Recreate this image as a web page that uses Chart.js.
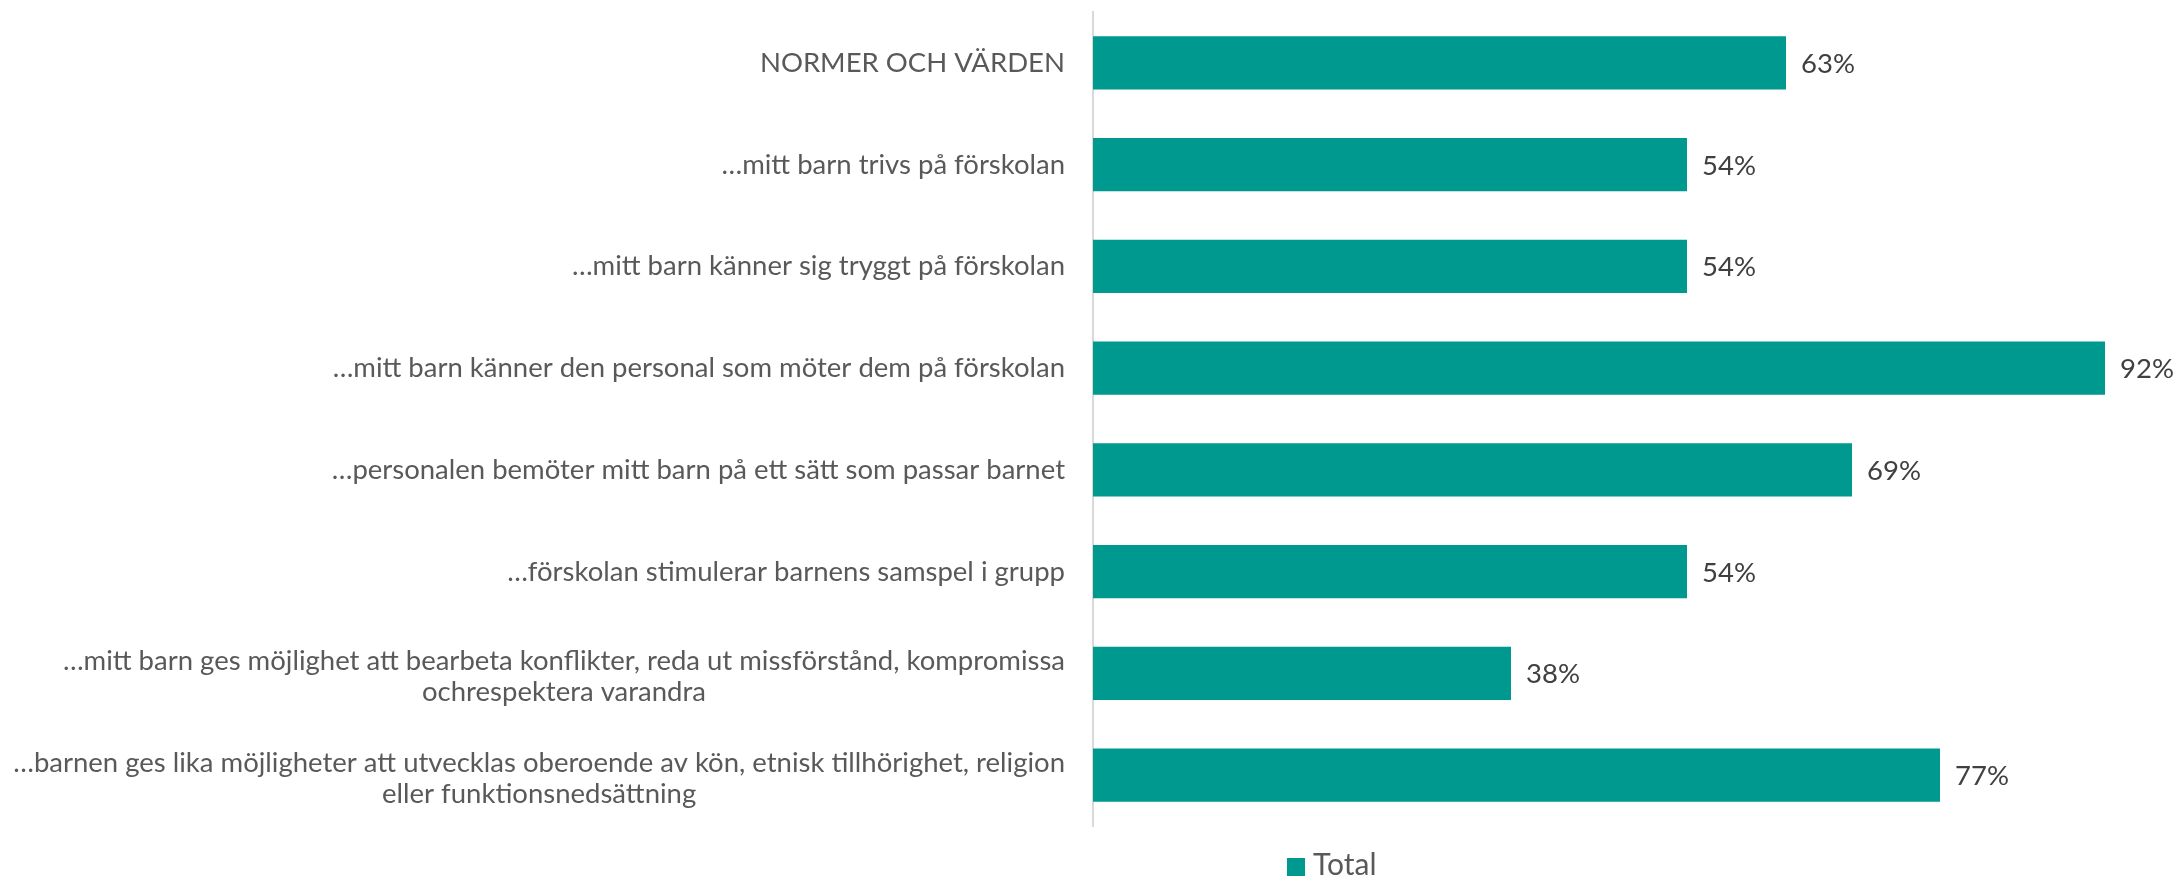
<!DOCTYPE html>
<html lang="sv">
<head>
    <meta charset="UTF-8">
    <title>Normer och värden</title>
    <style>
        body {
            margin: 0;
            background: #fff;
        }

        .chart-container {
            width: 2180px;
            height: 877px;
            position: relative;
        }
    </style>
</head>
<body>

<div class="chart-container">
    <canvas id="myChart"></canvas>
</div>

<script src="https://cdn.jsdelivr.net/npm/chart.js"></script>
<script>
    const categories = [
        ['NORMER OCH VÄRDEN'],
        ['…mitt barn trivs på förskolan'],
        ['…mitt barn känner sig tryggt på förskolan'],
        ['…mitt barn känner den personal som möter dem på förskolan'],
        ['…personalen bemöter mitt barn på ett sätt som passar barnet'],
        ['…förskolan stimulerar barnens samspel i grupp'],
        ['…mitt barn ges möjlighet att bearbeta konflikter, reda ut missförstånd, kompromissa', 'ochrespektera varandra'],
        ['…barnen ges lika möjligheter att utvecklas oberoende av kön, etnisk tillhörighet, religion', 'eller funktionsnedsättning']
    ];
    const totalValues = [0.63, 0.54, 0.54, 0.92, 0.69, 0.54, 0.38, 0.77];
    const seriesName = 'Total';

    const barColor = '#009990';
    const labelFont = '27.5px Lato';

    // kategoritexter, värdeetiketter och förklaring ritas här
    const textPlugin = {
        id: 'textPlugin',
        afterDraw(chart) {
            const ctx = chart.ctx;
            const yScale = chart.scales.y;
            const meta = chart.getDatasetMeta(0);
            ctx.save();

            // kategorier till vänster
            ctx.font = labelFont;
            ctx.fillStyle = '#595959';
            ctx.textBaseline = 'middle';
            ctx.textAlign = 'center';
            const rightEdge = chart.chartArea.left - 28;
            const lineHeight = 31;
            categories.forEach((lines, i) => {
                const y = yScale.getPixelForTick(i);
                const w = Math.max(...lines.map(l => ctx.measureText(l).width));
                const cx = rightEdge - w / 2;
                const shift = lines.length > 1 ? 3 : 0;
                const top = y + shift - (lines.length - 1) * lineHeight / 2;
                lines.forEach((l, j) => ctx.fillText(l, cx, top + j * lineHeight));
            });

            // värden vid staplarna
            ctx.fillStyle = '#404040';
            ctx.textAlign = 'left';
            meta.data.forEach((bar, i) => {
                const txt = Math.round(totalValues[i] * 100) + '%';
                ctx.fillText(txt, bar.x + 15, bar.y + 1);
            });

            // förklaring
            ctx.fillStyle = barColor;
            ctx.fillRect(1287, 858, 18, 18);
            ctx.font = '30px Lato';
            ctx.fillStyle = '#595959';
            ctx.textBaseline = 'alphabetic';
            ctx.fillText(seriesName, 1313, 875);
            ctx.restore();
        }
    };

    const data = {
        labels: categories,
        datasets: [{
            label: seriesName,
            data: totalValues,
            backgroundColor: barColor,
            borderWidth: 0,
            categoryPercentage: 1,
            barPercentage: 0.525
        }]
    };

    const config = {
        type: 'bar',
        data: data,
        options: {
            indexAxis: 'y',
            responsive: true,
            maintainAspectRatio: false,
            animation: false,
            layout: {
                padding: { top: 12, bottom: 51, right: 9, left: 0 }
            },
            plugins: {
                legend: { display: false },
                tooltip: { enabled: false }
            },
            scales: {
                x: {
                    display: false,
                    min: 0,
                    max: 0.98
                },
                y: {
                    grid: { display: false },
                    border: { display: true, color: '#d9d9d9', width: 2 },
                    ticks: { display: false },
                    afterFit(scale) {
                        scale.width = 1093;
                    }
                }
            }
        },
        plugins: [textPlugin]
    };

    const myChart = new Chart(
        document.getElementById('myChart'),
        config
    );
</script>

</body>
</html>
